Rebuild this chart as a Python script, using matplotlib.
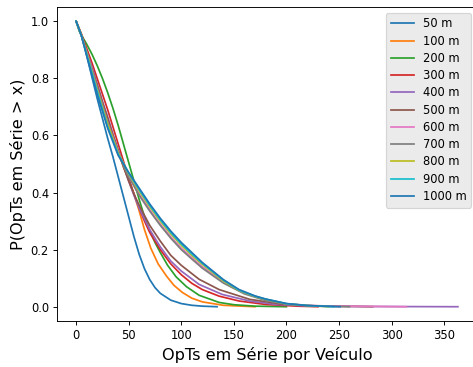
import matplotlib
matplotlib.use("Agg")
import matplotlib.pyplot as plt

labels = ["50 m", "100 m", "200 m", "300 m", "400 m", "500 m",
          "600 m", "700 m", "800 m", "900 m", "1000 m"]

x_50 = [0, 5, 10, 15, 20, 25, 30, 35, 40, 45, 50, 55, 60, 65, 70, 75, 80, 90, 100, 110, 120, 134]
y_50 = [1.0, 0.95, 0.88, 0.805, 0.73, 0.66, 0.59, 0.525, 0.455, 0.385, 0.315, 0.245, 0.183, 0.133, 0.095, 0.067, 0.047, 0.023, 0.011, 0.005, 0.002, 0.0]

x_100 = [0, 5, 10, 15, 20, 25, 30, 35, 40, 45, 50, 55, 60, 65, 71, 78, 86, 93, 101, 110, 120, 140, 170]
y_100 = [1.0, 0.955, 0.9, 0.84, 0.78, 0.715, 0.655, 0.6, 0.545, 0.49, 0.445, 0.395, 0.335, 0.27, 0.205, 0.15, 0.107, 0.075, 0.05, 0.03, 0.017, 0.005, 0.0]

x_200 = [0, 3, 6, 10, 15, 20, 25, 30, 35, 40, 45, 50, 55, 60, 65, 70, 75, 80, 87, 95, 105, 117, 136, 150, 170, 200]
y_200 = [1.0, 0.965, 0.945, 0.92, 0.885, 0.845, 0.8, 0.75, 0.695, 0.635, 0.57, 0.505, 0.44, 0.375, 0.315, 0.265, 0.225, 0.19, 0.145, 0.105, 0.07, 0.04, 0.015, 0.007, 0.002, 0.0]

x_300 = [0, 5, 10, 15, 20, 25, 30, 35, 40, 45, 50, 55, 60, 65, 70, 80, 90, 100, 110, 120, 136, 155, 180, 210, 230]
y_300 = [1.0, 0.955, 0.905, 0.855, 0.8, 0.745, 0.69, 0.63, 0.57, 0.51, 0.45, 0.395, 0.345, 0.3, 0.26, 0.2, 0.15, 0.112, 0.082, 0.06, 0.037, 0.02, 0.008, 0.002, 0.0]

x_400 = [0, 5, 10, 15, 20, 25, 30, 35, 40, 45, 50, 55, 60, 70, 80, 90, 100, 117, 139, 165, 190, 220, 260, 363]
y_400 = [1.0, 0.95, 0.895, 0.84, 0.78, 0.72, 0.665, 0.605, 0.55, 0.495, 0.44, 0.39, 0.345, 0.27, 0.21, 0.16, 0.125, 0.078, 0.043, 0.02, 0.008, 0.003, 0.001, 0.0]

x_500 = [0, 5, 10, 15, 20, 25, 30, 35, 40, 45, 50, 55, 60, 70, 80, 90, 100, 117, 136, 165, 194, 220, 282]
y_500 = [1.0, 0.95, 0.89, 0.83, 0.775, 0.715, 0.66, 0.6, 0.545, 0.49, 0.44, 0.395, 0.355, 0.285, 0.23, 0.18, 0.145, 0.096, 0.06, 0.026, 0.01, 0.004, 0.0]

x_600 = [0, 5, 10, 20, 30, 40, 50, 60, 70, 80, 90, 100, 110, 120, 140, 160, 180, 200, 230, 314]
y_600 = [1.0, 0.95, 0.89, 0.765, 0.645, 0.54, 0.458, 0.395, 0.34, 0.29, 0.245, 0.205, 0.172, 0.14, 0.086, 0.048, 0.024, 0.01, 0.003, 0.0]

x_700 = [0, 5, 10, 20, 30, 40, 50, 60, 70, 80, 90, 100, 110, 120, 140, 160, 180, 200, 230, 260]
y_700 = [1.0, 0.95, 0.89, 0.765, 0.645, 0.535, 0.455, 0.39, 0.335, 0.285, 0.24, 0.2, 0.167, 0.135, 0.083, 0.045, 0.022, 0.009, 0.002, 0.0]

x_800 = [0, 5, 10, 20, 30, 40, 50, 60, 70, 80, 90, 100, 110, 120, 140, 155, 170, 180, 200, 220, 240]
y_800 = [1.0, 0.95, 0.89, 0.76, 0.64, 0.54, 0.465, 0.405, 0.35, 0.3, 0.255, 0.215, 0.18, 0.148, 0.09, 0.057, 0.036, 0.026, 0.01, 0.004, 0.0]

x_900 = [0, 5, 10, 20, 30, 40, 50, 60, 70, 80, 90, 100, 110, 120, 140, 155, 170, 180, 200, 220, 245]
y_900 = [1.0, 0.95, 0.885, 0.755, 0.63, 0.535, 0.468, 0.41, 0.355, 0.305, 0.26, 0.22, 0.185, 0.152, 0.093, 0.058, 0.037, 0.027, 0.011, 0.004, 0.0]

x_1000 = [0, 5, 10, 20, 30, 40, 50, 60, 70, 80, 90, 100, 110, 120, 140, 155, 170, 180, 200, 220, 251]
y_1000 = [1.0, 0.95, 0.88, 0.745, 0.625, 0.53, 0.47, 0.415, 0.36, 0.31, 0.265, 0.225, 0.19, 0.155, 0.095, 0.06, 0.038, 0.027, 0.011, 0.004, 0.0]

xs = [x_50, x_100, x_200, x_300, x_400, x_500, x_600, x_700, x_800, x_900, x_1000]
ys = [y_50, y_100, y_200, y_300, y_400, y_500, y_600, y_700, y_800, y_900, y_1000]
colors = ["#1f77b4", "#ff7f0e", "#2ca02c", "#d62728", "#9467bd", "#8c564b",
          "#e377c2", "#7f7f7f", "#bcbd22", "#17becf", "#1f77b4"]

x_ticks = [0, 50, 100, 150, 200, 250, 300, 350]
y_ticks = [0.0, 0.2, 0.4, 0.6, 0.8, 1.0]

fig = plt.figure(figsize=(473 / 83, 367 / 83), dpi=83)
ax = fig.add_axes([57 / 473, 1 - 321 / 367, (477 - 57) / 473, (321 - 7) / 367])

for x, y, c, lab in zip(xs, ys, colors, labels):
    ax.plot(x, y, color=c, label=lab, lw=1.5)

ax.set_xlim(-18.2, 381.2)
ax.set_ylim(-0.05, 1.05)
ax.set_xticks(x_ticks)
ax.set_yticks(y_ticks)
ax.set_xlabel("OpTs em Série por Veículo", fontsize=14)
ax.set_ylabel("P(OpTs em Série > x)", fontsize=14)
ax.tick_params(labelsize=10)
leg = ax.legend(loc="upper right", fontsize=10, facecolor="#ebebeb",
                edgecolor="#d5d5d5", framealpha=1.0, labelspacing=0.37)

fig.savefig("out.png", dpi=83)
